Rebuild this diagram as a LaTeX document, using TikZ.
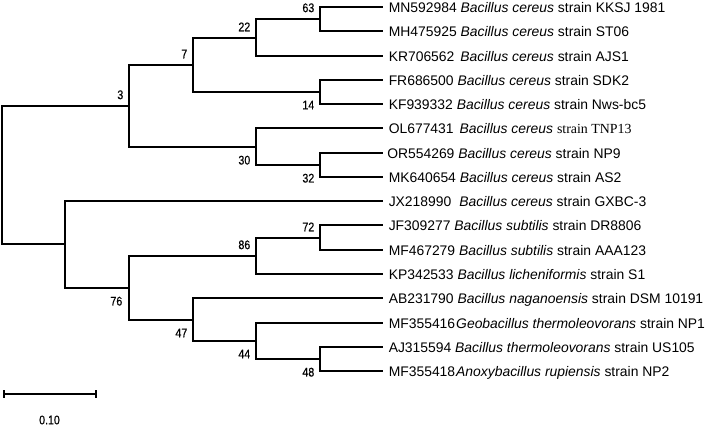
\documentclass[tikz,border=0pt]{standalone}
\usepackage{fontspec}
\setmainfont{Liberation Sans}
\newfontfamily\tnrfont{Liberation Serif}
\newfontfamily\numfont[FakeStretch=0.85,FakeBold=0.6]{Liberation Sans}
\usetikzlibrary{calc}
\begin{document}
\begin{tikzpicture}[x=1pt,y=-1pt,line width=1.5pt,
  leaf/.style={anchor=west,inner xsep=5pt,inner ysep=0pt,text height=12.6pt,text depth=2pt,font=\fontsize{13.9}{15}\selectfont},
  bs/.style={inner sep=0pt,font=\numfont\fontsize{12.5}{13}\selectfont},
  bsup/.style={bs,anchor=south east},
  bsdn/.style={bs,anchor=north east}]
\useasboundingbox (0,0) rectangle (709,426);
% internal nodes
\coordinate (R) at (2,175);
\coordinate (A) at (129,106);
\coordinate (B) at (193,65);
\coordinate (C) at (256,38);
\coordinate (D) at (320,19);
\coordinate (E) at (320,92);
\coordinate (F) at (256,147);
\coordinate (G) at (320,165);
\coordinate (H) at (65,244);
\coordinate (I) at (129,288);
\coordinate (J) at (256,256);
\coordinate (K) at (320,238);
\coordinate (L) at (193,320);
\coordinate (M) at (256,341);
\coordinate (N) at (320,359);
% leaves
\node[leaf] (t0) at (383,7) {MN592984 \textit{Bacillus cereus} strain KKSJ 1981};
\node[leaf] (t1) at (383,31) {MH475925 \textit{Bacillus cereus} strain ST06};
\node[leaf] (t2) at (383,56) {KR706562\hspace{6pt}\textit{Bacillus cereus} strain AJS1};
\node[leaf] (t3) at (383,80) {FR686500 \textit{Bacillus cereus} strain SDK2};
\node[leaf] (t4) at (383,104) {KF939332 \textit{Bacillus cereus} strain Nws-bc5};
\node[leaf] (t5) at (383,128) {OL677431\hspace{6pt}\textit{Bacillus cereus} {\tnrfont strain TNP13}};
\node[leaf] (t6) at (383,153) {\hspace{-1.5pt}OR554269 \textit{Bacillus cereus} strain NP9};
\node[leaf] (t7) at (383,177) {MK640654 \textit{Bacillus cereus} strain AS2};
\node[leaf] (t8) at (383,201) {JX218990\hspace{8pt}\textit{Bacillus cereus} strain GXBC-3};
\node[leaf] (t9) at (383,225) {JF309277 \textit{Bacillus subtilis} strain DR8806};
\node[leaf] (t10) at (383,250) {MF467279 \textit{Bacillus subtilis} strain AAA123};
\node[leaf] (t11) at (383,274) {KP342533 \textit{Bacillus licheniformis} strain S1};
\node[leaf] (t12) at (383,298) {AB231790 \textit{Bacillus naganoensis} strain DSM 10191};
\node[leaf] (t13) at (383,323) {MF355416\hspace{1pt}\textit{Geobacillus thermoleovorans} strain NP1};
\node[leaf] (t14) at (383,347) {AJ315594 \textit{Bacillus thermoleovorans} strain US105};
\node[leaf] (t15) at (383,371) {MF355418\hspace{1pt}\textit{Anoxybacillus rupiensis} strain NP2};
% branches
\draw (R) |- (A); \draw (R) |- (H);
\draw (A) |- (B); \draw (A) |- (F);
\draw (B) |- (C); \draw (B) |- (E);
\draw (C) |- (D); \draw (C) |- (t2.west);
\draw (D) |- (t0.west); \draw (D) |- (t1.west);
\draw (E) |- (t3.west); \draw (E) |- (t4.west);
\draw (F) |- (t5.west); \draw (F) |- (G);
\draw (G) |- (t6.west); \draw (G) |- (t7.west);
\draw (H) |- (t8.west); \draw (H) |- (I);
\draw (I) |- (J); \draw (I) |- (L);
\draw (J) |- (K); \draw (J) |- (t11.west);
\draw (K) |- (t9.west); \draw (K) |- (t10.west);
\draw (L) |- (t12.west); \draw (L) |- (M);
\draw (M) |- (t13.west); \draw (M) |- (N);
\draw (N) |- (t14.west); \draw (N) |- (t15.west);
% bootstrap values
\node[bsup] (bA) at ($(A)+(-5,-6)$) {3};
\node[bsup] (bB) at ($(B)+(-5,-6)$) {7};
\node[bsup] (bC) at ($(C)+(-5,-6)$) {22};
\node[bsup] (bD) at ($(D)+(-5,-6)$) {63};
\node[bsdn] (bE) at ($(E)+(-5,8)$) {14};
\node[bsdn] (bF) at ($(F)+(-5,8)$) {30};
\node[bsdn] (bG) at ($(G)+(-5,8)$) {32};
\node[bsdn] (bI) at ($(I)+(-6,8)$) {76};
\node[bsup] (bJ) at ($(J)+(-5,-6)$) {86};
\node[bsup] (bK) at ($(K)+(-5,-6)$) {72};
\node[bsdn] (bL) at ($(L)+(-5,8)$) {47};
\node[bsdn] (bM) at ($(M)+(-5,8)$) {44};
\node[bsdn] (bN) at ($(N)+(-5,8)$) {48};
% scale bar
\coordinate (s1) at (4,394);
\coordinate (s2) at (96,394);
\draw (s1) -- (s2);
\draw ($(s1)+(0,-4)$) -- ($(s1)+(0,4)$);
\draw ($(s2)+(0,-4)$) -- ($(s2)+(0,4)$);
\node[bs] (sl) at (49.5,420) {0.10};
\end{tikzpicture}
\end{document}
